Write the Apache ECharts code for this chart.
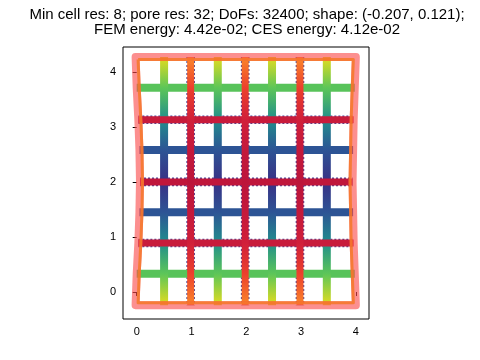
<!DOCTYPE html>
<html><head><meta charset="utf-8">
<script src="https://cdn.jsdelivr.net/npm/echarts@6/dist/echarts.min.js"></script>
<style>html,body{margin:0;padding:0;background:#fff}#c{width:480px;height:360px}</style>
</head><body><div id="c"></div>
<script>
// ---------- data ----------
const titleLines = ['Min cell res: 8; pore res: 32; DoFs: 32400; shape: (-0.207, 0.121);',
                    'FEM energy: 4.42e-02; CES energy: 4.12e-02'];
const xTicks = [0, 1, 2, 3, 4];
const yTicks = [0, 1, 2, 3, 4];
// heights of the wall rows (top border ... bottom border)
const rowY = [4.27, 3.71, 3.13, 2.58, 2.0, 1.45, 0.89, 0.33, -0.24];
// outer border x at each row height (slightly bowed inward)
const leftBorderX  = [-0.02, 0.0, 0.03, 0.05, 0.06, 0.05, 0.03, 0.0, -0.02];
const rightBorderX = [4.0, 3.98, 3.96, 3.95, 3.94, 3.95, 3.96, 3.98, 4.0];
// vertical interior walls
const minorWallX = [0.5, 1.48, 2.47, 3.47];
const majorWallX = [0.985, 1.98, 2.98];
// field value along the vertical walls at each rowY
const minorWallValue = [0.66, 0.48, 0.33, 0.14, 0.02, 0.14, 0.33, 0.48, 0.66];
const majorWallValue = [0.78, 0.86, 0.93, 0.96, 0.98, 0.96, 0.93, 0.86, 0.78];
// horizontal interior walls (index into rowY) and their values
const minorRowIdx = [1, 3, 5, 7];
const minorRowValue = [0.47, 0.14, 0.14, 0.47];
const majorRowIdx = [2, 4, 6];
const majorRowValue = [0.95, 0.97, 0.95];

// ---------- colour map ----------
const cmapStops = [[0.0,'#3b2a82'],[0.12,'#2e4f96'],[0.25,'#277090'],[0.35,'#1f968b'],
  [0.45,'#4cbf5e'],[0.55,'#86d549'],[0.63,'#d2e21b'],[0.7,'#fbd524'],[0.77,'#fd8f2a'],
  [0.85,'#f0452a'],[0.93,'#d11f3a'],[1.0,'#b3103c']];
function hex2rgb(h){return [parseInt(h.slice(1,3),16),parseInt(h.slice(3,5),16),parseInt(h.slice(5,7),16)];}
function cmap(v){
  v = Math.max(0, Math.min(1, v));
  for (let i = 1; i < cmapStops.length; i++) {
    if (v <= cmapStops[i][0]) {
      const a = cmapStops[i-1], b = cmapStops[i];
      const t = (v - a[0]) / (b[0] - a[0]);
      const ca = hex2rgb(a[1]), cb = hex2rgb(b[1]);
      const c = ca.map((x, k) => Math.round(x + (cb[k] - x) * t));
      return 'rgb(' + c.join(',') + ')';
    }
  }
  return cmapStops[cmapStops.length-1][1];
}

const chart = echarts.init(document.getElementById('c'), null, {renderer: 'canvas'});
const FONT = 'Liberation Sans, Arial, sans-serif';

function baseOption(series) {
  return {
    animation: false,
    backgroundColor: '#fff',
    title: {
      text: titleLines.join('\n'), left: 242, top: 2, textAlign: 'center',
      textStyle: {fontFamily: FONT, fontSize: 15, fontWeight: 'normal', color: '#000', lineHeight: 15.5}
    },
    grid: {left: 123, right: 111, top: 47, bottom: 41, show: true, borderColor: '#000', borderWidth: 1, backgroundColor: 'transparent'},
    xAxis: {
      type: 'value', min: -0.25, max: 4.24,
      splitLine: {show: false}, axisLine: {show: false},
      axisTick: {show: true, length: 4, lineStyle: {color: '#000', width: 1}, customValues: xTicks},
      axisLabel: {show: true, customValues: xTicks, color: '#000', fontFamily: FONT, fontSize: 11, margin: 7}
    },
    yAxis: {
      type: 'value', min: -0.49, max: 4.45,
      splitLine: {show: false}, axisLine: {show: false},
      axisTick: {show: true, length: 4, lineStyle: {color: '#000', width: 1}, customValues: yTicks},
      axisLabel: {show: true, customValues: yTicks, color: '#000', fontFamily: FONT, fontSize: 11, margin: 7}
    },
    series: series
  };
}

function lineSeries(points, color, width, z, extra) {
  return {
    type: 'line', data: points, symbol: 'none', silent: true, z: z,
    lineStyle: Object.assign({color: color, width: width, cap: 'butt', join: 'round'}, extra || {})
  };
}

function build(toPx, fromPx) {
  const series = [];
  function vGrad(points, values) {
    const p0 = toPx(points[0]), p1 = toPx(points[points.length-1]);
    const stops = points.map((p, i) => ({
      offset: Math.max(0, Math.min(1, (toPx(p)[1] - p0[1]) / (p1[1] - p0[1]))),
      color: cmap(values[i])
    }));
    return {type: 'linear', x: p0[0], y: p0[1], x2: p1[0], y2: p1[1], global: true, colorStops: stops};
  }
  const dotted = {type: [2, 2]};
  // dark dotted edges under the major walls
  majorWallX.forEach(x => {
    series.push(lineSeries(rowY.map(y => [x, y]), '#4b4597', 8.6, 1, dotted));
  });
  majorRowIdx.forEach(i => {
    series.push(lineSeries([[leftBorderX[i], rowY[i]], [rightBorderX[i], rowY[i]]], '#4b4597', 8.6, 1, dotted));
  });
  // minor horizontal walls
  minorRowIdx.forEach((i, k) => {
    series.push(lineSeries([[leftBorderX[i], rowY[i]], [rightBorderX[i], rowY[i]]], cmap(minorRowValue[k]), 8, 2));
  });
  // minor vertical walls
  minorWallX.forEach(x => {
    const pts = rowY.map(y => [x, y]);
    series.push(lineSeries(pts, vGrad(pts, minorWallValue), 8, 3));
  });
  // major horizontal walls
  majorRowIdx.forEach((i, k) => {
    series.push(lineSeries([[leftBorderX[i], rowY[i]], [rightBorderX[i], rowY[i]]], cmap(majorRowValue[k]), 7, 5));
  });
  // major vertical walls
  majorWallX.forEach(x => {
    const pts = rowY.map(y => [x, y]);
    series.push(lineSeries(pts, vGrad(pts, majorWallValue), 7, 6));
  });
  // outer border: translucent salmon ring with an orange inner edge
  const n = rowY.length;
  const border = [], inner = [];
  const sh = 2.5;
  function shifted(p, dx, dy) { const q = toPx(p); return fromPx([q[0] + dx, q[1] + dy]); }
  for (let i = 0; i < n; i++) {
    const p = [leftBorderX[i], rowY[i]];
    border.push(p);
    inner.push(shifted(p, sh, i === 0 ? sh : (i === n - 1 ? -sh : 0)));
  }
  for (let i = n - 1; i >= 0; i--) {
    const p = [rightBorderX[i], rowY[i]];
    border.push(p);
    inner.push(shifted(p, -sh, i === 0 ? sh : (i === n - 1 ? -sh : 0)));
  }
  border.push(border[0]); inner.push(inner[0]);
  series.push(lineSeries(border, 'rgba(250,75,75,0.62)', 8, 7, {cap: 'round'}));
  series.push(lineSeries(inner, 'rgba(245,120,40,0.85)', 3, 8));
  return series;
}

chart.setOption(baseOption([]));
const toPx = p => chart.convertToPixel({xAxisIndex: 0, yAxisIndex: 0}, p);
const fromPx = p => chart.convertFromPixel({xAxisIndex: 0, yAxisIndex: 0}, p);
chart.setOption(baseOption(build(toPx, fromPx)), true);
</script>
</body></html>
